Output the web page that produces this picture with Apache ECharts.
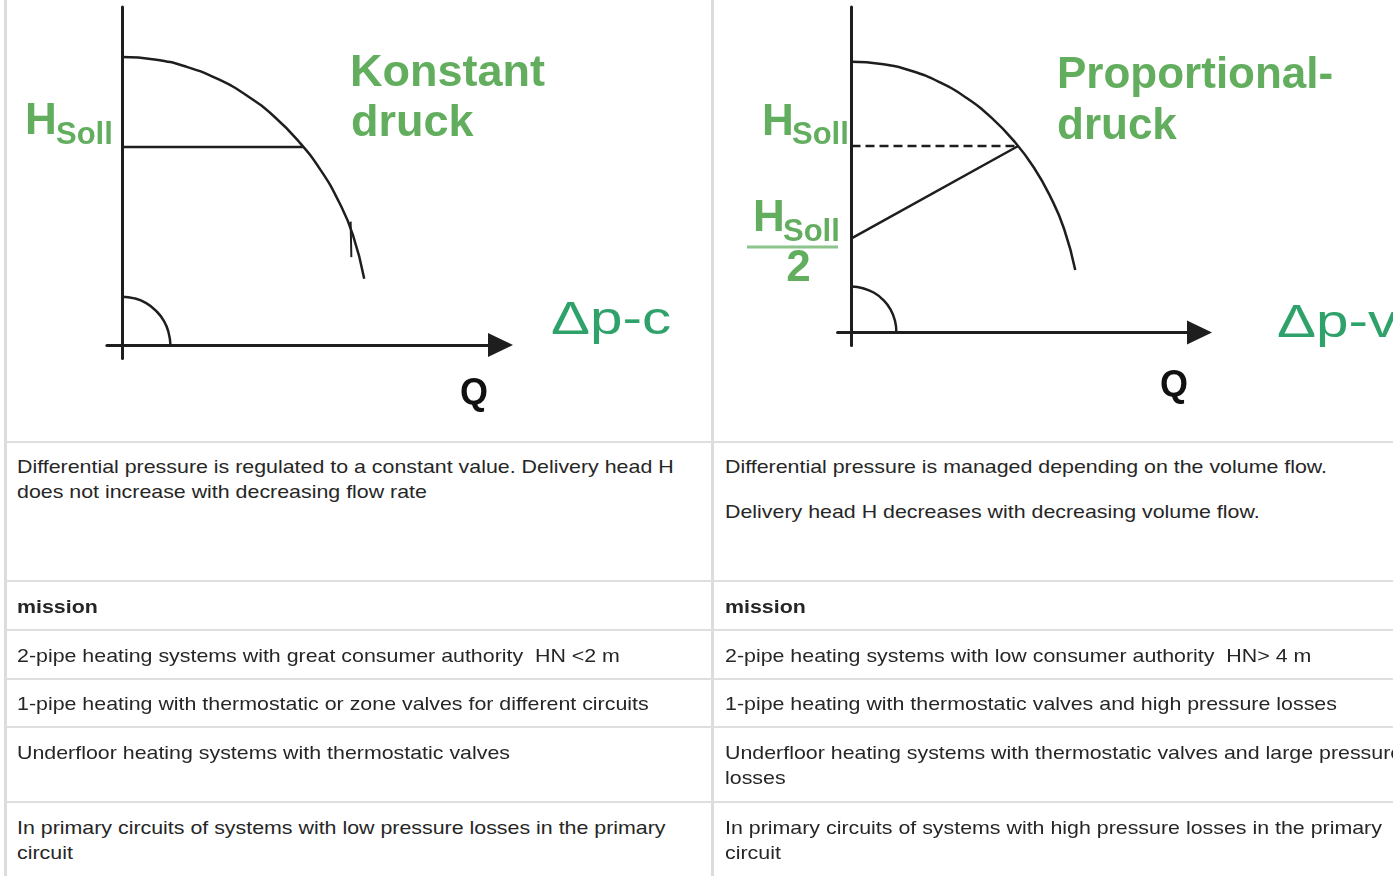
<!DOCTYPE html>
<html>
<head>
<meta charset="utf-8">
<title>Δp-c / Δp-v</title>
<script src="https://cdn.jsdelivr.net/npm/echarts@6/dist/echarts.min.js"></script>
<style>
html, body { margin: 0; padding: 0; width: 1393px; height: 876px; overflow: hidden; background: #fff; }
#chart { position: absolute; left: 0; top: 0; width: 1393px; height: 440px; }
.vline { position: absolute; top: 0; width: 3px; height: 876px; background: #dcdcdc; }
.hline { position: absolute; left: 5px; width: 1388px; height: 2px; background: #dedede; }
.txt {
  position: absolute; white-space: pre;
  font-family: "Liberation Sans", Arial, sans-serif; font-size: 19px; line-height: 25px;
  color: #262626; transform: scaleX(1.125); transform-origin: 0 0;
}
.txt p { margin: 0 0 20px 0; }
.txt.bold { font-weight: bold; }
</style>
</head>
<body>
<div id="chart"></div>
<div id="table"></div>
<script>
// ---- Kennlinien (Q, H) in willkürlichen Einheiten, Pfeilende Q = 100, Achsenende H = 100 ----
// Δp-c (links)
const leftCurve = [[0, 85.2], [8.6, 84.5], [17.1, 82.3], [25.3, 78.7], [33.0, 73.8], [40.2, 67.6], [46.7, 60.2],
  [52.4, 51.9], [57.2, 42.6], [61.0, 32.6], [64.0, 19.6]]
const leftSetLine = [[0, 58.6], [47.9, 58.6]]
const leftTick = [[60.4, 36.5], [60.6, 26.0]]
const leftArc = [[0, 14.3], [3.3, 13.8], [6.4, 12.4], [9.0, 10.1], [11.1, 7.1], [12.3, 3.7], [12.8, 0]]

// Δp-v (rechts)
const rightCurve = [[0, 83.2], [8.6, 82.5], [17.1, 80.4], [25.3, 76.9], [33.0, 72.1], [40.2, 66.0], [46.7, 58.8],
  [52.4, 50.7], [57.2, 41.6], [61.1, 31.8], [64.3, 19.2]]
const rightSetLine = [[0, 57.3], [47.9, 57.3]]
const rightPropLine = [[0, 28.9], [47.9, 57.3]]
const rightArc = [[0, 14.1], [3.3, 13.6], [6.5, 12.2], [9.1, 10.0], [11.2, 7.1], [12.5, 3.6], [12.9, 0]]

// ---- Tabellentexte ----
const leftCells = [
  ['Differential pressure is regulated to a constant value. Delivery head H\ndoes not increase with decreasing flow rate'],
  ['mission'],
  ['2-pipe heating systems with great consumer authority  HN <2 m'],
  ['1-pipe heating with thermostatic or zone valves for different circuits'],
  ['Underfloor heating systems with thermostatic valves'],
  ['In primary circuits of systems with low pressure losses in the primary\ncircuit']
]
const rightCells = [
  ['Differential pressure is managed depending on the volume flow.', 'Delivery head H decreases with decreasing volume flow.'],
  ['mission'],
  ['2-pipe heating systems with low consumer authority  HN> 4 m'],
  ['1-pipe heating with thermostatic valves and high pressure losses'],
  ['Underfloor heating systems with thermostatic valves and large pressure\nlosses'],
  ['In primary circuits of systems with high pressure losses in the primary\ncircuit']
]
const boldRows = [1]

// Layout der Tabelle (px)
const rowBorders = [441.6, 581.4, 630.3, 678.6, 727.2, 802]
const colX = [17, 725]

// Tabelle aufbauen
const table = document.getElementById('table')
let html = '<div class="vline" style="left:4px"></div><div class="vline" style="left:711px"></div>'
rowBorders.forEach((y) => {
  html += '<div class="hline" style="top:' + (y - 1) + 'px"></div>'
})
const cellHtml = (paras) => paras.map(p => '<p>' + p.replace(/</g, '&lt;').replace(/>/g, '&gt;') + '</p>').join('')
leftCells.forEach((paras, i) => {
  const cls = boldRows.includes(i) ? 'txt bold' : 'txt'
  html += '<div class="' + cls + '" style="left:' + colX[0] + 'px;top:' + (rowBorders[i] + 12.5) + 'px">' + cellHtml(paras) + '</div>'
})
rightCells.forEach((paras, i) => {
  const cls = boldRows.includes(i) ? 'txt bold' : 'txt'
  html += '<div class="' + cls + '" style="left:' + colX[1] + 'px;top:' + (rowBorders[i] + 12.5) + 'px">' + cellHtml(paras) + '</div>'
})
table.innerHTML = html

// ---- Diagramme ----
const ink = '#1e1e1e'
const green = '#62ae5e'
const teal = '#2ea26a'
const fontFam = '"Liberation Sans", Arial, sans-serif'

const axisPair = (gi) => ({
  x: {
    gridIndex: gi, type: 'value', min: -4, max: 100,
    axisLine: { show: true, onZero: true, symbol: ['none', 'triangle'], symbolSize: [24, 25], lineStyle: { color: ink, width: 3 } },
    axisTick: { show: false }, axisLabel: { show: false }, splitLine: { show: false }
  },
  y: {
    gridIndex: gi, type: 'value', min: -4, max: 100,
    axisLine: { show: true, onZero: true, lineStyle: { color: ink, width: 3 } },
    axisTick: { show: false }, axisLabel: { show: false }, splitLine: { show: false }
  }
})
const a0 = axisPair(0)
const a1 = axisPair(1)

const lineSeries = (gi, data, opts) => Object.assign({
  type: 'line', xAxisIndex: gi, yAxisIndex: gi, data: data,
  symbol: 'none', silent: true, clip: false, animation: false,
  lineStyle: { color: ink, width: 2.5 }
}, opts || {})

const label = (text, x, y, size, color, weight, align, sx) => ({
  type: 'text', x: x, y: y, scaleX: sx || 1, silent: true,
  style: {
    text: text, fill: color, font: (weight || 'normal') + ' ' + size + 'px ' + fontFam,
    textAlign: align || 'left', textVerticalAlign: 'middle'
  }
})

const chart = echarts.init(document.getElementById('chart'))
chart.setOption({
  animation: false,
  grid: [
    { left: 106.86, top: 7, width: 393.64, height: 351.52, outerBoundsMode: 'none' },
    { left: 837.58, top: 7, width: 361.92, height: 338.52, outerBoundsMode: 'none' }
  ],
  xAxis: [a0.x, a1.x],
  yAxis: [a0.y, a1.y],
  series: [
    lineSeries(0, leftCurve, { smooth: true }),
    lineSeries(0, leftSetLine),
    lineSeries(0, leftTick, { lineStyle: { color: ink, width: 2 } }),
    lineSeries(0, leftArc, { smooth: true }),
    lineSeries(1, rightCurve, { smooth: true }),
    lineSeries(1, rightSetLine, { lineStyle: { color: ink, width: 2.5, type: [9, 5] } }),
    lineSeries(1, rightPropLine),
    lineSeries(1, rightArc, { smooth: true })
  ],
  graphic: {
    elements: [
      // links
      label('H', 25, 121.5, 44, green, 'bold'),
      label('Soll', 56, 135, 31, green, 'bold'),
      label('Konstant', 350, 74, 45, green, 'bold'),
      label('druck', 351, 124, 45, green, 'bold'),
      label('Δp-c', 551, 321, 46, teal, 'normal', 'left', 1.27),
      label('Q', 474, 394, 36, '#111', 'bold', 'center'),
      // rechts
      label('H', 762, 123, 44, green, 'bold'),
      label('Soll', 792, 135, 31, green, 'bold'),
      label('H', 753, 219, 44, green, 'bold'),
      label('Soll', 783, 232, 31, green, 'bold'),
      { type: 'line', silent: true, shape: { x1: 747, y1: 247, x2: 838, y2: 247 }, style: { stroke: '#8cc48c', lineWidth: 3 } },
      label('2', 798.5, 269, 44, green, 'bold', 'center'),
      label('Proportional-', 1057, 76, 44, green, 'bold'),
      label('druck', 1057, 127, 44, green, 'bold'),
      label('Δp-v', 1277, 324, 46, teal, 'normal', 'left', 1.27),
      label('Q', 1174, 386, 36, '#111', 'bold', 'center')
    ]
  }
})
</script>
</body>
</html>
